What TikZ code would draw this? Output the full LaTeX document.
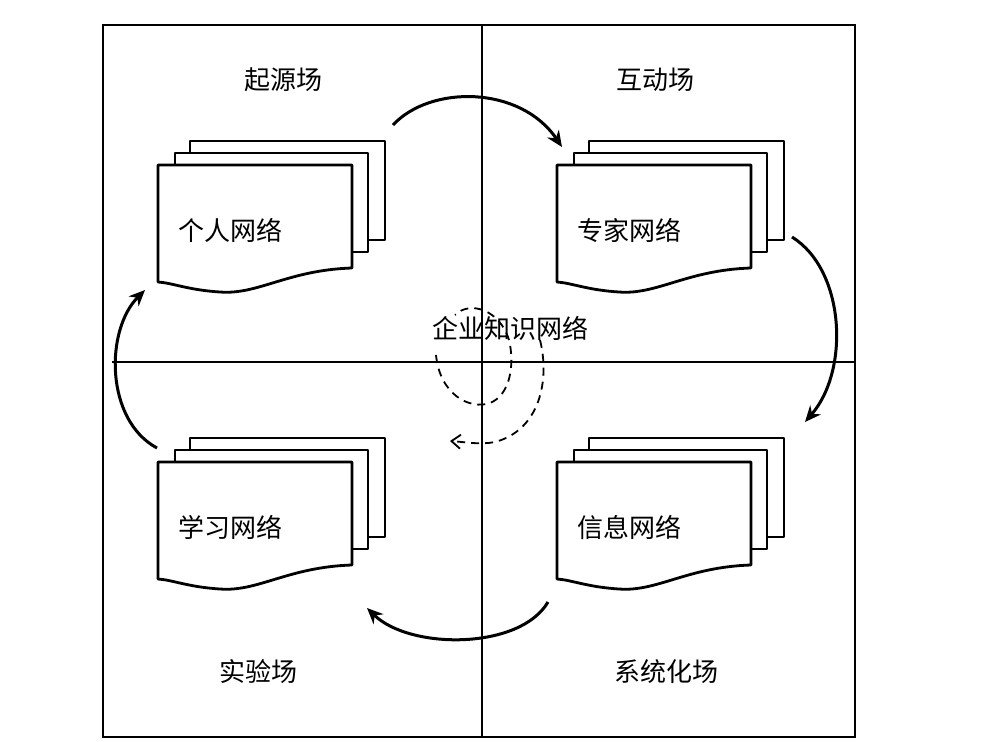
\documentclass[tikz,border=0pt]{standalone}
\usepackage{fontspec}
\newfontfamily\cjk{Noto Sans CJK SC}
\usetikzlibrary{arrows.meta}
\tikzset{
  pg/.style={draw=black, line width=2.8pt, fill=white, line join=round},
  lab/.style={font=\cjk\fontsize{26}{28}\selectfont, inner sep=0pt},
  cyc/.style={line width=3pt, -{Stealth[length=16pt,width=14pt]}},
  spir/.style={line width=1.8pt, dash pattern=on 8pt off 6pt, -{Straight Barb[length=9pt,width=14pt]}},
  docstack/.pic={
    \draw[pg] (32,0) -- (32,-24) -- (227,-24) -- (227,75) -- (194,75) -- (194,0) -- cycle;
    \draw[pg] (17,0) -- (17,-12) -- (210,-12) -- (210,87) -- (194,87) -- (194,0) -- cycle;
    \draw[pg] (0,0) -- (194,0) -- (194,103) .. controls (130,105) and (100,130) .. (62,127) .. controls (30,125) and (15,118) .. (0,117) -- cycle;
  }
}
\begin{document}
\begin{tikzpicture}[x=1pt,y=-1pt]
\useasboundingbox (0,0) rectangle (989,742);
\draw[line width=2.8pt] (103,25) rectangle (855,737);
\draw[line width=2.8pt] (482,25) -- (482,737);
\draw[line width=2.8pt] (112,362) -- (855,362);
\pic at (158,165) {docstack};
\pic at (557,165) {docstack};
\pic at (158,462) {docstack};
\pic at (557,462) {docstack};
\node[lab,anchor=west] (d1) at (178,230) {个人网络};
\node[lab,anchor=west] (d2) at (577,230) {专家网络};
\node[lab,anchor=west] (d3) at (178,527) {学习网络};
\node[lab,anchor=west] (d4) at (577,527) {信息网络};
\node[lab] (f1) at (283,80) {起源场};
\node[lab] (f2) at (655,80) {互动场};
\node[lab] (f3) at (258,672) {实验场};
\node[lab] (f4) at (666,672) {系统化场};
\node[lab] (c) at (510,328) {企业知识网络};
\coordinate (a1) at (393,125); \coordinate (b1) at (562,147);
\coordinate (a2) at (792,237); \coordinate (b2) at (805,422);
\coordinate (a3) at (548,602); \coordinate (b3) at (367,608);
\coordinate (a4) at (157,448); \coordinate (b4) at (145,290);
\draw[cyc] (a1) .. controls (430,85) and (520,85) .. (b1);
\draw[cyc] (a2) .. controls (845,270) and (850,370) .. (b2);
\draw[cyc] (a3) .. controls (520,650) and (410,650) .. (b3);
\draw[cyc] (a4) .. controls (105,420) and (105,330) .. (b4);
\draw[spir] (436,355) .. controls (440,395) and (470,410) .. (490,403)
  .. controls (510,395) and (515,365) .. (509,340)
  .. controls (500,310) and (470,300) .. (455,315)
  (540,340) .. controls (550,380) and (540,430) .. (495,442)
  .. controls (480,445) and (465,442) .. (450,441);
\end{tikzpicture}
\end{document}
